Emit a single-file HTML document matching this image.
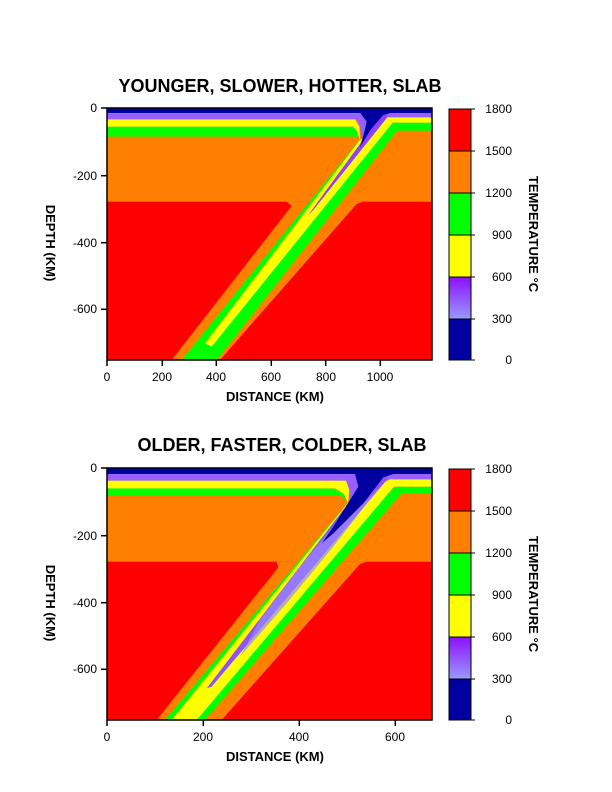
<!DOCTYPE html>
<html><head><meta charset="utf-8"><style>
body{margin:0;background:#fff;}
svg{display:block;font-family:"Liberation Sans",Arial,sans-serif;}
.t{font-size:12px;}
.b{font-weight:bold;}
</style></head><body>
<svg width="612" height="792" viewBox="0 0 612 792" xmlns="http://www.w3.org/2000/svg">
<defs>
<linearGradient id="pg" x1="0" y1="0" x2="0" y2="1"><stop offset="0" stop-color="#8a10ff"/><stop offset="1" stop-color="#9a9aff"/></linearGradient>
</defs>
<!-- TOP PLOT -->
<text x="280" y="92" text-anchor="middle" class="b" font-size="18">YOUNGER, SLOWER, HOTTER, SLAB</text>
<g transform="translate(100,100) scale(0.33333)">
<rect x="22" y="24" width="974" height="756" fill="#ff0000"/>
<rect x="22" y="24" width="974" height="281" fill="#ff8000"/>
<polygon points="560,305 575,318 215,780 360,780 770,312 790,305" fill="#ff8000"/>
<!-- right bands -->
<rect x="880" y="68" width="116" height="24" fill="#00ff00"/>
<rect x="865" y="52" width="131" height="16" fill="#ffff00"/>
<rect x="850" y="38" width="146" height="14" fill="#9a60ff"/>
<!-- left bands -->
<polygon points="22,80 760,80 772,95 775,128 768,110 755,110 22,110" fill="#00ff00"/>
<polygon points="22,58 765,58 778,80 780,122 772,95 760,80 22,80" fill="#ffff00"/>
<polygon points="22,40 790,40 805,62 800,90 785,125 780,80 768,58 22,58" fill="#9a60ff"/>
<!-- slab -->
<polygon points="772,128 880,68 892,68 892,92 350,780 245,780" fill="#00ff00"/>
<polygon points="778,122 860,52 875,52 878,68 335,740 315,730" fill="#ffff00"/>
<polygon points="780,132 840,38 860,38 862,52 640,330 625,345" fill="#9040ff"/>
<!-- blue -->
<rect x="22" y="24" width="974" height="15" fill="#0000a0"/>
<polygon points="780,38 875,38 850,45 815,85 780,140 792,100 800,65" fill="#0000a0"/>
</g>
<rect x="107" y="108" width="325" height="252" fill="none" stroke="#000" stroke-width="1.5"/>
<g stroke="#000" stroke-width="1.5">
<line x1="107" y1="108" x2="101" y2="108"/><line x1="107" y1="175.7" x2="101" y2="175.7"/><line x1="107" y1="242.7" x2="101" y2="242.7"/><line x1="107" y1="309.3" x2="101" y2="309.3"/>
<line x1="107" y1="360" x2="107" y2="366"/><line x1="162.3" y1="360" x2="162.3" y2="366"/><line x1="216.3" y1="360" x2="216.3" y2="366"/><line x1="271.3" y1="360" x2="271.3" y2="366"/><line x1="325.7" y1="360" x2="325.7" y2="366"/><line x1="380.3" y1="360" x2="380.3" y2="366"/>
</g>
<g class="t" text-anchor="end"><text x="97" y="112">0</text><text x="97" y="180">-200</text><text x="97" y="247">-400</text><text x="97" y="313">-600</text></g>
<g class="t" text-anchor="middle"><text x="107" y="381">0</text><text x="162" y="381">200</text><text x="216" y="381">400</text><text x="271" y="381">600</text><text x="326" y="381">800</text><text x="380" y="381">1000</text></g>
<text x="275" y="401" text-anchor="middle" class="b" font-size="13">DISTANCE (KM)</text>
<text transform="translate(46,243) rotate(90)" text-anchor="middle" class="b" font-size="13">DEPTH (KM)</text>
<g>
<rect x="449" y="109" width="22" height="42" fill="#ff0000"/>
<rect x="449" y="151" width="22" height="42" fill="#ff8000"/>
<rect x="449" y="193" width="22" height="42" fill="#00ff00"/>
<rect x="449" y="235" width="22" height="42" fill="#ffff00"/>
<rect x="449" y="277" width="22" height="42" fill="url(#pg)"/>
<rect x="449" y="319" width="22" height="41" fill="#0000a0"/>
<g stroke="#000" stroke-width="1"><rect x="449" y="109" width="22" height="251" fill="none"/>
<line x1="449" y1="151" x2="475" y2="151"/><line x1="449" y1="193" x2="475" y2="193"/><line x1="449" y1="235" x2="475" y2="235"/><line x1="449" y1="277" x2="475" y2="277"/><line x1="449" y1="319" x2="475" y2="319"/><line x1="471" y1="109" x2="475" y2="109"/><line x1="471" y1="360" x2="475" y2="360"/></g>
<g class="t" text-anchor="end"><text x="512" y="113">1800</text><text x="512" y="155">1500</text><text x="512" y="197">1200</text><text x="512" y="239">900</text><text x="512" y="281">600</text><text x="512" y="323">300</text><text x="512" y="364">0</text></g>
<text transform="translate(529,234) rotate(90)" text-anchor="middle" class="b" font-size="13">TEMPERATURE °C</text>
</g>

<!-- BOTTOM PLOT -->
<text x="282" y="451" text-anchor="middle" class="b" font-size="18">OLDER, FASTER, COLDER, SLAB</text>
<g transform="translate(100,460) scale(0.33333)">
<rect x="22" y="24" width="974" height="756" fill="#ff0000"/>
<rect x="22" y="24" width="974" height="281" fill="#ff8000"/>
<polygon points="530,305 535,322 170,780 365,780 780,312 800,305" fill="#ff8000"/>
<!-- right bands -->
<rect x="900" y="80" width="96" height="20" fill="#00ff00"/>
<rect x="875" y="58" width="121" height="22" fill="#ffff00"/>
<rect x="860" y="42" width="136" height="16" fill="#9a60ff"/>
<!-- left bands -->
<polygon points="22,85 700,85 730,100 742,130 725,108 22,108" fill="#00ff00"/>
<polygon points="22,62 740,62 748,90 744,128 730,100 705,85 22,85" fill="#ffff00"/>
<polygon points="22,42 765,42 778,60 775,80 748,125 748,90 738,62 22,62" fill="#9a60ff"/>
<!-- slab -->
<polygon points="742,130 895,80 905,80 905,100 315,780 195,780" fill="#00ff00"/>
<polygon points="744,128 870,58 880,58 882,80 290,780 215,780" fill="#ffff00"/>
<polygon points="746,128 850,42 862,42 862,58 335,680 320,685" fill="#9050ff"/>
<polygon points="700,200 800,120 840,80 700,260 560,430 420,590 480,480 600,320" fill="#9a8aff" opacity="0.7"/>
<!-- blue -->
<rect x="22" y="24" width="974" height="18" fill="#0000a0"/>
<polygon points="765,42 880,42 850,52 790,130 700,220 665,250 700,200 745,128 775,80" fill="#0000a0"/>
</g>
<rect x="107" y="468" width="325" height="252" fill="none" stroke="#000" stroke-width="1.5"/>
<g stroke="#000" stroke-width="1.5">
<line x1="107" y1="468" x2="101" y2="468"/><line x1="107" y1="535.7" x2="101" y2="535.7"/><line x1="107" y1="602.7" x2="101" y2="602.7"/><line x1="107" y1="669.3" x2="101" y2="669.3"/>
<line x1="107" y1="720" x2="107" y2="726"/><line x1="203.3" y1="720" x2="203.3" y2="726"/><line x1="299.3" y1="720" x2="299.3" y2="726"/><line x1="395.3" y1="720" x2="395.3" y2="726"/>
</g>
<g class="t" text-anchor="end"><text x="97" y="472">0</text><text x="97" y="540">-200</text><text x="97" y="607">-400</text><text x="97" y="673">-600</text></g>
<g class="t" text-anchor="middle"><text x="107" y="741">0</text><text x="203" y="741">200</text><text x="299" y="741">400</text><text x="395" y="741">600</text></g>
<text x="275" y="761" text-anchor="middle" class="b" font-size="13">DISTANCE (KM)</text>
<text transform="translate(46,603) rotate(90)" text-anchor="middle" class="b" font-size="13">DEPTH (KM)</text>
<g transform="translate(0,360)">
<rect x="449" y="109" width="22" height="42" fill="#ff0000"/>
<rect x="449" y="151" width="22" height="42" fill="#ff8000"/>
<rect x="449" y="193" width="22" height="42" fill="#00ff00"/>
<rect x="449" y="235" width="22" height="42" fill="#ffff00"/>
<rect x="449" y="277" width="22" height="42" fill="url(#pg)"/>
<rect x="449" y="319" width="22" height="41" fill="#0000a0"/>
<g stroke="#000" stroke-width="1"><rect x="449" y="109" width="22" height="251" fill="none"/>
<line x1="449" y1="151" x2="475" y2="151"/><line x1="449" y1="193" x2="475" y2="193"/><line x1="449" y1="235" x2="475" y2="235"/><line x1="449" y1="277" x2="475" y2="277"/><line x1="449" y1="319" x2="475" y2="319"/><line x1="471" y1="109" x2="475" y2="109"/><line x1="471" y1="360" x2="475" y2="360"/></g>
<g class="t" text-anchor="end"><text x="512" y="113">1800</text><text x="512" y="155">1500</text><text x="512" y="197">1200</text><text x="512" y="239">900</text><text x="512" y="281">600</text><text x="512" y="323">300</text><text x="512" y="364">0</text></g>
<text transform="translate(529,234) rotate(90)" text-anchor="middle" class="b" font-size="13">TEMPERATURE °C</text>
</g>
</svg>
</body></html>
